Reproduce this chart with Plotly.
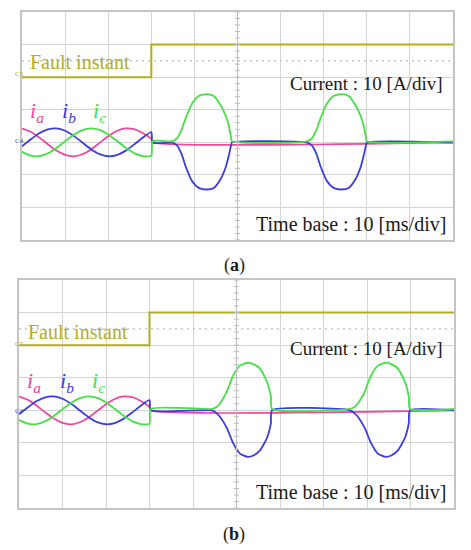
import plotly.graph_objects as go

W, H = 471, 550

# ---------------- DATA ----------------
# time in ms (10 ms/div), currents in A (10 A/div)
t_pre = [0, 2, 4, 6, 8, 10, 12, 14, 16, 18, 20, 22, 24, 26, 28, 30]
ia_pre = [4.18, 3.22, 1.48, -0.61, -2.55, -3.88, -4.30, -3.68, -2.20, -0.19, 1.87, 3.48, 4.26, 4.03, 2.84, 0.98]
ib_pre = [-1.23, 0.86, 2.76, 3.99, 4.27, 3.54, 1.97, -0.08, -2.10, -3.63, -4.29, -3.93, -2.64, -0.71, 1.38, 3.14]
ic_pre = [-2.95, -4.08, -4.24, -3.38, -1.72, 0.34, 2.33, 3.76, 4.30, 3.82, 2.42, 0.45, -1.62, -3.32, -4.22, -4.12]

t_ia_post = [30.3, 100]
ia_post = [0, 0]

# (a) after the fault
t_post_a = [30.3, 34.8, 36.0, 37.0, 38.0, 39.5, 41.0, 42.9, 44.5, 46.0, 47.3, 48.0, 48.5, 48.7,
            66.1, 67.3, 68.3, 69.3, 70.8, 72.3, 74.2, 75.8, 77.3, 78.6, 79.3, 79.8, 80.0, 100]
ib_post_a = [-0.1, -0.1, -1.0, -3.5, -7.5, -12.0, -14.0, -14.5, -14.0, -11.5, -7.5, -4.0, -1.0, -0.1,
             -0.1, -1.0, -3.5, -7.5, -12.0, -14.0, -14.5, -14.0, -11.5, -7.5, -4.0, -1.0, -0.1, -0.1]
ic_post_a = [0.3, 0.3, 1.3, 3.8, 7.5, 12.0, 14.2, 14.8, 14.2, 11.5, 8.0, 5.0, 1.5, 0.3,
             0.3, 1.3, 3.8, 7.5, 12.0, 14.2, 14.8, 14.2, 11.5, 8.0, 5.0, 1.5, 0.3, 0.3]

# (b) after the fault
t_post_b = [30.3, 44.4, 45.3, 46.2, 47.8, 49.2, 50.8, 52.6, 54.0, 55.4, 57.0, 57.9, 58.2,
            76.1, 77.0, 77.9, 79.5, 80.9, 82.5, 84.3, 85.7, 87.1, 88.7, 89.6, 89.9, 100]
ib_post_b = [0.0, 0.0, -0.8, -2.0, -5.5, -10.0, -13.3, -14.3, -13.8, -12.3, -8.5, -4.0, 0.0,
             0.0, -0.8, -2.0, -5.5, -10.0, -13.3, -14.3, -13.8, -12.3, -8.5, -4.0, 0.0, 0.0]
ic_post_b = [0.4, 0.4, 0.9, 2.1, 5.8, 10.6, 13.7, 14.6, 14.1, 12.8, 8.8, 4.3, 0.4,
             0.4, 0.9, 2.1, 5.8, 10.6, 13.7, 14.6, 14.1, 12.8, 8.8, 4.3, 0.4, 0.4]

# fault flag channel (0 = normal, 1 = fault)
t_fault = [0, 30, 30, 100]
fault_state = [0, 0, 1, 1]

PINK = "#f0479b"
BLUE = "#3b3be0"
GREEN = "#45e045"
OLIVE = "#b3ad1e"
GRID = "#d4d4d4"
SERIF = "Liberation Serif, Times New Roman, serif"


def px(x, y):
    return x / W, 1 - y / H


panels = [
    dict(name="a", xd=(22, 453), yd=(12, 240), t_post=t_post_a, ib_post=ib_post_a, ic_post=ic_post_a),
    dict(name="b", xd=(19, 454), yd=(280, 508), t_post=t_post_b, ib_post=ib_post_b, ic_post=ic_post_b),
]

fig = go.Figure()
layout = {}
annotations = []
shapes = []

for k, p in enumerate(panels):
    xa = "x" if k == 0 else "x2"
    ya = "y" if k == 0 else "y2"
    x0, x1 = p["xd"]
    ytop, ybot = p["yd"]
    layout["xaxis" if k == 0 else "xaxis2"] = dict(
        domain=[x0 / W, x1 / W], range=[0, 100], dtick=10, showgrid=True, gridcolor=GRID,
        gridwidth=1, zeroline=False, showticklabels=False, ticks="", showline=True,
        linecolor="#c4c4c4", linewidth=1.5, mirror=True, anchor=ya, fixedrange=True)
    layout["yaxis" if k == 0 else "yaxis2"] = dict(
        domain=[1 - ybot / H, 1 - ytop / H], range=[-30, 40], dtick=10, showgrid=True,
        gridcolor=GRID, gridwidth=1, zeroline=False, showticklabels=False, ticks="",
        showline=True, linecolor="#c4c4c4", linewidth=1.5, mirror=True, anchor=xa, fixedrange=True)

    # dotted cursor line and centre-line tick marks
    shapes.append(dict(type="line", xref=xa, yref=ya, x0=0, x1=100, y0=25, y1=25,
                       line=dict(color="#c8c8c8", width=1.5, dash="2px,4px")))
    shapes.append(dict(type="line", xref=xa, yref=ya, x0=50, x1=50, y0=-30, y1=40,
                       line=dict(color="#bdbdbd", width=1)))
    for v in range(-30, 41, 2):
        shapes.append(dict(type="line", xref=xa, yref=ya, x0=49.4, x1=50.6, y0=v, y1=v,
                           line=dict(color="#bdbdbd", width=1)))

    # fault channel, drawn with an offset of 2 div above the current zero
    fig.add_trace(go.Scatter(x=t_fault, y=[20 + 10 * s for s in fault_state], mode="lines",
                             line=dict(color=OLIVE, width=2), xaxis=xa, yaxis=ya))

    series = [
        (t_pre + t_ia_post, ia_pre + ia_post, PINK),
        (t_pre + p["t_post"], ib_pre + p["ib_post"], BLUE),
        (t_pre + p["t_post"], ic_pre + p["ic_post"], GREEN),
    ]
    for tx, vy, col in series:
        fig.add_trace(go.Scatter(x=tx, y=vy, mode="lines",
                                 line=dict(color=col, width=1.8, shape="spline", smoothing=0.6),
                                 xaxis=xa, yaxis=ya))

    # trigger markers
    fig.add_trace(go.Scatter(x=[30], y=[-31.6], mode="markers", cliponaxis=False,
                             marker=dict(symbol="triangle-up", size=6, color=OLIVE), xaxis=xa, yaxis=ya))
    fig.add_trace(go.Scatter(x=[100.6], y=[30], mode="markers", cliponaxis=False,
                             marker=dict(symbol="triangle-left", size=6, color=OLIVE), xaxis=xa, yaxis=ya))


# ---------------- TEXT ----------------
def note(text, x, y, size, color="#1a1a1a", xanchor="left"):
    ax, ay = px(x, y)
    annotations.append(dict(text=text, x=ax, y=ay, xref="paper", yref="paper", showarrow=False,
                            xanchor=xanchor, yanchor="middle",
                            font=dict(family=SERIF, size=size, color=color)))


for p, dy in zip(panels, [0, 270]):
    note("Fault instant", 28 if dy == 0 else 26, 61.5 + dy, 20, OLIVE)
    note("Current : 10 [A/div]", 445, 84 if dy == 0 else 348, 19, xanchor="right")
    note("Time base : 10 [ms/div]", 448, 223.5 if dy == 0 else 492, 20, xanchor="right")
    lx = [28, 60, 91] if dy == 0 else [25, 58, 90]
    note("<i>i<sub>a</sub></i>", lx[0], 112 + dy, 22, PINK)
    note("<i>i<sub>b</sub></i>", lx[1], 112 + dy, 22, BLUE)
    note("<i>i<sub>c</sub></i>", lx[2], 112 + dy, 22, GREEN)
    note("C5", 13, 74 + dy, 7, OLIVE)
    note("C4", 13, 141 + dy, 7, BLUE)

note("(<b>a</b>)", 234, 265, 18, xanchor="center")
note("(<b>b</b>)", 234, 534, 18, xanchor="center")

fig.update_layout(**layout)
fig.update_layout(width=W, height=H, margin=dict(l=0, r=0, t=0, b=0), showlegend=False,
                  paper_bgcolor="white", plot_bgcolor="white", annotations=annotations, shapes=shapes)

fig.write_html("out.html", config={"displayModeBar": False},
               post_script="document.body.style.margin='0';")
